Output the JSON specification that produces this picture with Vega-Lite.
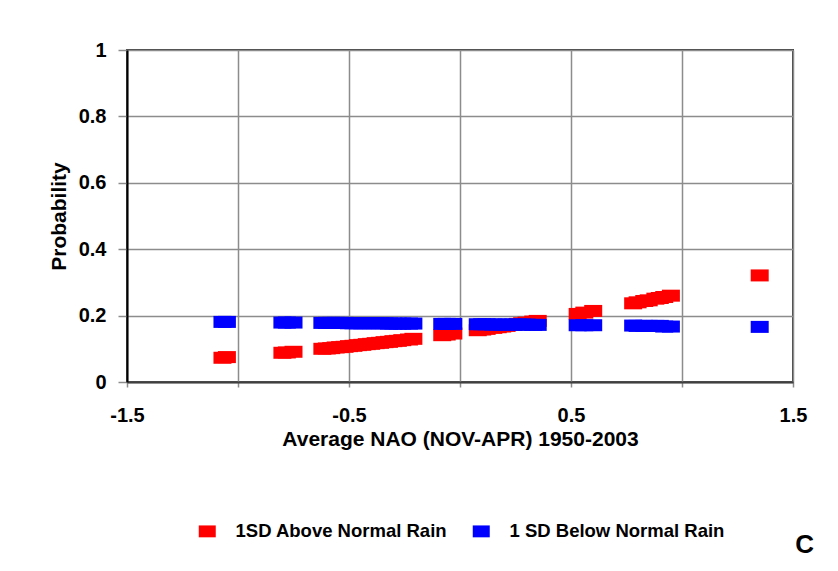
{
  "$schema": "https://vega.github.io/schema/vega-lite/v6.json",
  "width": 666,
  "height": 332,
  "autosize": {"type": "none"},
  "padding": {"left": 127, "top": 50, "right": 45, "bottom": 189},
  "background": "white",
  "title": {"text": "C", "orient": "bottom", "anchor": "end", "frame": "group", "fontSize": 26, "fontWeight": "bold", "font": "Liberation Sans", "color": "black", "dx": 21, "offset": -9},
  "data": {"values": [
    {"nao": -1.07, "above": 0.073, "below": 0.181},
    {"nao": -1.05, "above": 0.075, "below": 0.181},
    {"nao": -0.80, "above": 0.088, "below": 0.179},
    {"nao": -0.78, "above": 0.089, "below": 0.179},
    {"nao": -0.75, "above": 0.091, "below": 0.179},
    {"nao": -0.62, "above": 0.100, "below": 0.178},
    {"nao": -0.60, "above": 0.101, "below": 0.178},
    {"nao": -0.58, "above": 0.102, "below": 0.178},
    {"nao": -0.56, "above": 0.104, "below": 0.178},
    {"nao": -0.54, "above": 0.105, "below": 0.178},
    {"nao": -0.52, "above": 0.106, "below": 0.178},
    {"nao": -0.50, "above": 0.108, "below": 0.177},
    {"nao": -0.48, "above": 0.109, "below": 0.177},
    {"nao": -0.46, "above": 0.111, "below": 0.177},
    {"nao": -0.44, "above": 0.112, "below": 0.177},
    {"nao": -0.42, "above": 0.114, "below": 0.177},
    {"nao": -0.40, "above": 0.115, "below": 0.177},
    {"nao": -0.38, "above": 0.117, "below": 0.177},
    {"nao": -0.36, "above": 0.118, "below": 0.177},
    {"nao": -0.34, "above": 0.120, "below": 0.177},
    {"nao": -0.32, "above": 0.121, "below": 0.176},
    {"nao": -0.30, "above": 0.123, "below": 0.176},
    {"nao": -0.28, "above": 0.124, "below": 0.176},
    {"nao": -0.26, "above": 0.126, "below": 0.176},
    {"nao": -0.23, "above": 0.128, "below": 0.176},
    {"nao": -0.21, "above": 0.130, "below": 0.176},
    {"nao": -0.08, "above": 0.141, "below": 0.175},
    {"nao": -0.06, "above": 0.143, "below": 0.175},
    {"nao": -0.03, "above": 0.146, "below": 0.175},
    {"nao": 0.08, "above": 0.156, "below": 0.174},
    {"nao": 0.10, "above": 0.158, "below": 0.174},
    {"nao": 0.12, "above": 0.160, "below": 0.174},
    {"nao": 0.15, "above": 0.163, "below": 0.173},
    {"nao": 0.17, "above": 0.165, "below": 0.173},
    {"nao": 0.19, "above": 0.167, "below": 0.173},
    {"nao": 0.21, "above": 0.169, "below": 0.173},
    {"nao": 0.24, "above": 0.172, "below": 0.173},
    {"nao": 0.26, "above": 0.175, "below": 0.173},
    {"nao": 0.28, "above": 0.177, "below": 0.173},
    {"nao": 0.30, "above": 0.179, "below": 0.173},
    {"nao": 0.33, "above": 0.182, "below": 0.172},
    {"nao": 0.35, "above": 0.184, "below": 0.172},
    {"nao": 0.53, "above": 0.205, "below": 0.171},
    {"nao": 0.56, "above": 0.209, "below": 0.171},
    {"nao": 0.60, "above": 0.214, "below": 0.171},
    {"nao": 0.78, "above": 0.237, "below": 0.170},
    {"nao": 0.80, "above": 0.240, "below": 0.169},
    {"nao": 0.83, "above": 0.244, "below": 0.169},
    {"nao": 0.85, "above": 0.246, "below": 0.169},
    {"nao": 0.88, "above": 0.251, "below": 0.169},
    {"nao": 0.90, "above": 0.253, "below": 0.169},
    {"nao": 0.92, "above": 0.256, "below": 0.167},
    {"nao": 0.95, "above": 0.260, "below": 0.167},
    {"nao": 1.35, "above": 0.321, "below": 0.166}
  ]},
  "encoding": {
    "x": {
      "field": "nao", "type": "quantitative",
      "scale": {"domain": [-1.5, 1.5], "nice": false, "zero": false},
      "axis": {
        "title": "Average NAO (NOV-APR) 1950-2003",
        "values": [-1.5, -1, -0.5, 0, 0.5, 1, 1.5],
        "labelExpr": "abs(round(datum.value*2))%2===1 ? (datum.value<0?'-':'') + format(abs(datum.value),'.1f') : ''",
        "labelFlush": false, "labelOverlap": false, "labelBound": false,
        "grid": true, "gridColor": "#8c8c8c", "gridWidth": 1.5,
        "tickSize": 5, "tickColor": "#8c8c8c", "tickWidth": 1.5,
        "domainColor": "#404040", "domainWidth": 2,
        "labelFontSize": 20, "labelPadding": 18,
        "titleFontSize": 21, "titlePadding": 3
      }
    }
  },
  "layer": [
    {
      "mark": {"type": "point", "shape": "M-1,-0.667L1,-0.667L1,0.667L-1,0.667Z", "size": 324, "filled": true, "opacity": 1, "strokeWidth": 0},
      "encoding": {
        "y": {
          "field": "above", "type": "quantitative",
          "scale": {"domain": [0, 1], "nice": false},
          "axis": {
            "title": "Probability",
            "values": [0, 0.1, 0.2, 0.3, 0.4, 0.5, 0.6, 0.7, 0.8, 0.9, 1],
            "labelExpr": "round(datum.value*10)%2===0 ? format(datum.value,'~g') : ''",
            "labelOverlap": false, "labelBound": false, "labelFlush": false,
            "grid": true, "gridColor": "#8c8c8c", "gridWidth": 1.5,
            "gridOpacity": {"condition": {"test": "round(datum.value*10)%2===1", "value": 0}, "value": 1},
            "tickSize": {"condition": {"test": "round(datum.value*10)%2===1", "value": 6}, "value": 9},
            "tickColor": "#8c8c8c", "tickWidth": 1.5,
            "domainColor": "black", "domainWidth": 2,
            "labelFontSize": 20, "labelPadding": 12,
            "titleFontSize": 21, "titlePadding": 9
          }
        },
        "color": {
          "datum": "1SD Above Normal Rain",
          "scale": {"domain": ["1SD Above Normal Rain", "1 SD Below Normal Rain"], "range": ["#ff0000", "#0000ff"]},
          "legend": {
            "title": null, "orient": "none", "direction": "horizontal",
            "legendX": 71, "legendY": 472,
            "symbolType": "M-1,-0.7L1,-0.7L1,0.7L-1,0.7Z", "symbolSize": 289,
            "symbolStrokeWidth": 0, "symbolOpacity": 1,
            "labelFontSize": 18.5, "labelFontWeight": "bold", "labelFont": "Liberation Sans", "labelColor": "black",
            "labelLimit": 0,
            "labelOffset": 19, "columnPadding": 24, "padding": 0
          }
        }
      }
    },
    {
      "mark": {"type": "point", "shape": "M-1,-0.667L1,-0.667L1,0.667L-1,0.667Z", "size": 324, "filled": true, "opacity": 1, "strokeWidth": 0},
      "encoding": {
        "y": {"field": "below", "type": "quantitative", "title": "Probability"},
        "color": {"datum": "1 SD Below Normal Rain"}
      }
    }
  ],
  "config": {
    "font": "Liberation Sans",
    "view": {"stroke": "#404040", "strokeWidth": 2},
    "axis": {"labelFont": "Liberation Sans", "titleFont": "Liberation Sans", "labelFontWeight": "bold", "titleFontWeight": "bold", "labelColor": "black", "titleColor": "black"},
    "legend": {"labelFontWeight": "bold", "labelLimit": 0}
  }
}
